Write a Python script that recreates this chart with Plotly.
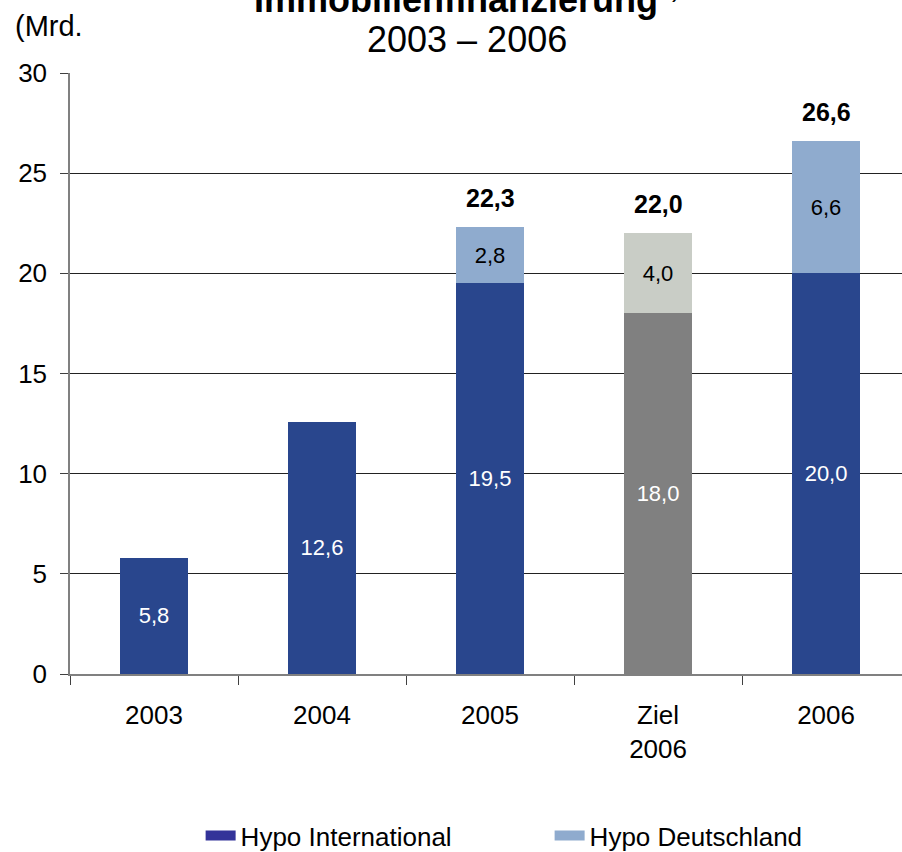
import plotly.graph_objects as go

categories = ["2003", "2004", "2005", "Ziel<br>2006", "2006"]
hypo_international = [5.8, 12.6, 19.5, 18.0, 20.0]
hypo_deutschland = [None, None, 2.8, 4.0, 6.6]
y_ticks = [0, 5, 10, 15, 20, 25, 30]

series_names = ["Hypo International", "Hypo Deutschland"]
title_main = "Immobilienfinanzierung"
title_sup = "1)"
title_years = "2003 – 2006"
unit_label = "(Mrd."

FONT = "Liberation Sans, Arial, sans-serif"

dark_blue = "#29468D"
light_blue = "#8FABCE"
dark_grey = "#808080"
light_grey = "#C9CDC6"
legend_dark = "#333399"
legend_light = "#8FABCE"

def fmt(v):
    return "" if v is None else f"{v:.1f}".replace(".", ",")

intl_colors = [dark_blue, dark_blue, dark_blue, dark_grey, dark_blue]
de_colors = [light_blue, light_blue, light_blue, light_grey, light_blue]

fig = go.Figure()
fig.add_trace(go.Bar(
    x=categories, y=hypo_international, width=0.405,
    marker=dict(color=intl_colors, line=dict(width=0)),
    text=[fmt(v) for v in hypo_international], textposition="inside",
    insidetextanchor="middle",
    textfont=dict(family=FONT, size=22, color="white"),
    showlegend=False, hoverinfo="skip",
))
fig.add_trace(go.Bar(
    x=categories, y=hypo_deutschland, width=0.405,
    marker=dict(color=de_colors, line=dict(width=0)),
    text=[fmt(v) for v in hypo_deutschland], textposition="inside",
    insidetextanchor="middle",
    textfont=dict(family=FONT, size=22, color="black"),
    showlegend=False, hoverinfo="skip",
))
# legend entries (thick line swatches)
fig.add_trace(go.Scatter(x=[None], y=[None], mode="lines", name=series_names[0],
                         line=dict(color=legend_dark, width=14)))
fig.add_trace(go.Scatter(x=[None], y=[None], mode="lines", name=series_names[1],
                         line=dict(color=legend_light, width=14)))

# totals (x given as category index so numeric-looking labels are not misread)
for i, (a, b) in enumerate(zip(hypo_international, hypo_deutschland)):
    if b is not None:
        tot = round(a + b, 1)
        fig.add_annotation(x=i, y=tot, text=f"<b>{fmt(tot)}</b>",
                           showarrow=False, yshift=29, yanchor="middle",
                           font=dict(family=FONT, size=25, color="black"))

# titles
fig.add_annotation(xref="paper", yref="paper", x=0.477, y=1.1265,
                   text=f"<b>{title_main}</b><sup>{title_sup}</sup>",
                   showarrow=False, xanchor="center", yanchor="middle",
                   font=dict(family=FONT, size=36, color="black"))
fig.add_annotation(xref="paper", yref="paper", x=0.477, y=1.0557,
                   text=title_years, showarrow=False, xanchor="center",
                   yanchor="middle", font=dict(family=FONT, size=36, color="black"))
fig.add_annotation(xref="paper", yref="paper", x=-0.0685, y=1.079,
                   text=unit_label, showarrow=False, xanchor="left",
                   yanchor="middle", font=dict(family=FONT, size=29, color="black"))

fig.update_layout(
    width=902, height=852,
    margin=dict(l=70, r=0, t=73, b=178, autoexpand=False),
    paper_bgcolor="white", plot_bgcolor="white",
    barmode="stack",
    font=dict(family=FONT, size=26, color="black"),
    showlegend=True,
    legend=dict(orientation="h", x=0.157, xanchor="left", y=-0.269,
                yanchor="middle", entrywidth=304, entrywidthmode="pixels",
                font=dict(family=FONT, size=26, color="black"),
                traceorder="normal"),
    xaxis=dict(
        type="category", range=[-0.5, 4.452], automargin=False,
        showline=True, linecolor="#808080", linewidth=1.5,
        ticks="outside", tickson="boundaries", ticklen=9,
        tickcolor="#404040", tickwidth=1,
        showgrid=False, ticklabelstandoff=17,
        tickfont=dict(family=FONT, size=26, color="black"),
    ),
    yaxis=dict(
        range=[0, 30], tickvals=y_ticks, automargin=False,
        showline=True, linecolor="#808080", linewidth=1.5,
        ticks="outside", ticklen=8, tickcolor="#404040",
        showgrid=True, gridcolor="#222222", gridwidth=1,
        zeroline=False, ticklabelstandoff=8,
        tickfont=dict(family=FONT, size=26, color="black"),
    ),
)

fig.write_html("out.html")
